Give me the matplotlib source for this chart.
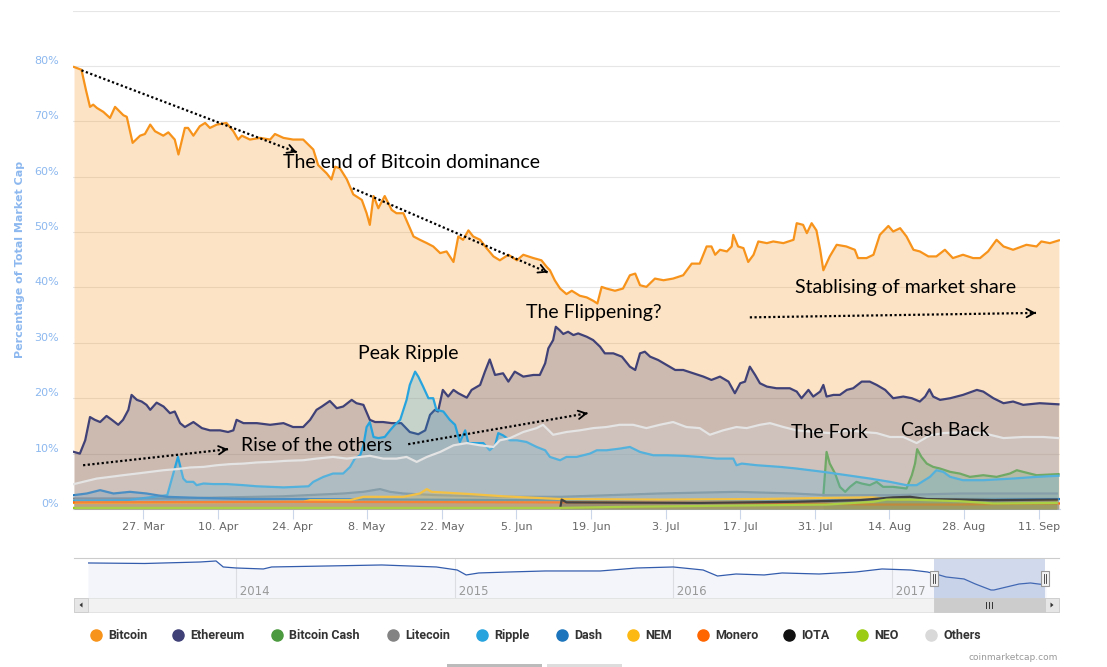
import numpy as np
import pandas as pd
import matplotlib
matplotlib.use("Agg")
import matplotlib.pyplot as plt
import matplotlib.dates as mdates
from matplotlib.patches import Rectangle
from matplotlib.transforms import ScaledTranslation
from datetime import datetime

# days after 14 Mar 2017 / percentage of total market cap
btc_day = [0, 1.4, 2.25, 3, 3.6, 4.3, 5.5, 6.75, 7.7, 9.25,
           9.9, 11, 12.4, 13.3, 14.3, 15.2, 16.75, 17.7, 18.9, 19.6,
           20.8, 21.4, 22.4, 23.6, 24.6, 25.5, 26.8, 28.6, 29.9, 30.8,
           31.5, 33, 34.9, 36.8, 37.7, 39.3, 41.1, 43, 44.9, 45.8,
           47.4, 48.3, 49, 49.9, 51.2, 52.4, 54, 54.9, 55.5, 56.2,
           57.1, 58.3, 59.6, 60.5, 61.8, 63.7, 64.9, 66.2, 67.4, 68.7,
           69.9, 71.2, 72.1, 73, 74, 74.9, 76.2, 77.4, 78.7, 79.9,
           81.5, 83.1, 84.3, 86.2, 87.7, 88.7, 89.3, 90.2, 91.2, 92.4,
           93.4, 94.9, 96.2, 97.4, 98.2, 99, 99.9, 101.5, 103, 104.3,
           105.3, 106.2, 107.4, 109, 110.6, 112.4, 114.3, 115.9, 117.4, 118.7,
           119.6, 120.3, 121.2, 122.5, 123.4, 123.7, 124.6, 125.6, 126.5, 127.5,
           128.4, 130, 131.2, 133.1, 135, 135.6, 136.8, 137.5, 138.4, 139.3,
           140, 140.6, 141.8, 143.1, 144.9, 146.5, 147.1, 148.7, 150, 151.2,
           152.8, 153.7, 155, 156.2, 157.5, 158.7, 160.3, 161.8, 163.4, 164.9,
           166.8, 168.7, 170, 171.5, 173.1, 174.4, 176.2, 178.7, 180.6, 181.5,
           183.1, 184.8]
btc_val = [79.8, 79.3, 75.6, 72.6, 73.0, 72.4, 71.7, 70.6, 72.6, 71.1,
           70.8, 66.1, 67.4, 67.7, 69.4, 68.2, 67.4, 68.0, 66.7, 64.0,
           68.8, 68.8, 67.4, 69.1, 69.7, 68.8, 69.4, 69.7, 68.2, 66.7,
           67.4, 66.7, 67.0, 66.7, 67.7, 67.0, 66.7, 66.7, 64.9, 62.1,
           60.6, 59.5, 61.8, 61.5, 59.5, 56.8, 55.8, 53.4, 51.3, 56.5,
           54.3, 56.5, 54.0, 53.4, 53.4, 49.2, 48.6, 48.0, 47.4, 46.2,
           46.5, 44.6, 49.2, 48.6, 50.3, 49.2, 48.6, 47.1, 45.6, 44.9,
           45.9, 44.9, 45.9, 45.3, 44.9, 43.7, 43.1, 41.3, 39.8, 38.8,
           39.4, 38.5, 38.2, 37.6, 37.1, 40.1, 39.8, 39.4, 39.8, 42.2,
           42.5, 40.4, 40.1, 41.6, 41.3, 41.6, 42.2, 44.3, 44.3, 47.4,
           47.4, 45.9, 46.8, 46.5, 47.4, 49.5, 47.4, 47.1, 44.6, 45.9,
           48.3, 48.0, 48.3, 48.0, 48.6, 51.6, 51.3, 49.8, 51.6, 50.3,
           46.8, 43.1, 45.6, 47.7, 47.4, 46.8, 45.3, 45.3, 45.9, 49.5,
           51.1, 50.1, 50.7, 49.2, 46.8, 46.5, 45.6, 45.6, 46.8, 45.3,
           45.9, 45.3, 45.3, 46.5, 48.6, 47.4, 46.8, 47.7, 47.4, 48.3,
           48.0, 48.5]

eth_day = [0, 1.1, 2.1, 3.0, 3.9, 4.9, 6.1, 7.1, 8.3, 9.2,
           10.2, 10.8, 11.8, 12.7, 13.6, 14.3, 15.5, 16.8, 18.0, 18.9,
           19.9, 20.8, 22.4, 24.0, 25.5, 27.4, 28.9, 29.9, 30.5, 31.8,
           34.3, 36.8, 39.3, 41.1, 43.0, 44.3, 45.5, 46.5, 48.0, 49.3,
           50.5, 52.1, 53.0, 54.3, 55.5, 56.5, 58.0, 59.6, 61.4, 63.0,
           64.6, 65.9, 66.8, 67.7, 68.3, 69.2, 70.2, 71.2, 72.1, 73.7,
           74.6, 76.2, 77.1, 78.0, 79.0, 80.5, 81.5, 82.7, 84.3, 86.2,
           87.4, 88.4, 89.0, 89.9, 90.4, 91.1, 91.8, 92.7, 93.7, 94.6,
           96.2, 97.4, 98.7, 99.6, 101.2, 102.8, 104.3, 105.3, 106.2, 107.1,
           108.1, 109.6, 111.2, 112.8, 114.3, 116.2, 118.1, 119.6, 121.2, 122.8,
           124.0, 125.0, 125.9, 126.8, 127.8, 128.7, 130.0, 131.8, 134.3, 135.6,
           136.5, 137.8, 138.7, 140.0, 140.6, 141.2, 142.5, 143.7, 145.0, 146.2,
           147.8, 149.3, 150.6, 152.2, 153.7, 155.6, 157.2, 158.7, 159.7, 160.5,
           161.2, 162.5, 164.4, 166.8, 169.4, 170.6, 172.5, 174.4, 176.2, 178.1,
           181.2, 184.7]
eth_val = [10.3, 10.0, 12.4, 16.6, 16.1, 15.7, 16.8, 16.1, 15.2, 16.1,
           17.9, 20.6, 19.7, 19.4, 18.8, 17.9, 19.2, 18.5, 17.3, 17.6,
           15.5, 14.8, 15.7, 14.6, 14.2, 14.2, 13.9, 14.2, 16.1, 15.5,
           15.5, 15.2, 15.5, 14.8, 14.8, 16.1, 17.9, 18.5, 19.5, 18.2,
           18.5, 19.7, 19.1, 18.8, 16.1, 15.7, 15.7, 15.5, 15.5, 13.9,
           13.5, 14.2, 17.0, 17.9, 17.6, 21.5, 20.3, 21.5, 20.9, 20.1,
           21.5, 22.4, 24.8, 27.0, 24.2, 24.5, 23.0, 24.8, 23.9, 24.2,
           24.2, 26.3, 29.0, 30.5, 32.9, 32.3, 31.6, 32.0, 31.4, 31.7,
           31.1, 30.5, 29.3, 28.1, 28.1, 27.5, 25.7, 25.1, 28.1, 28.4,
           27.5, 26.9, 26.0, 25.1, 25.1, 24.5, 23.9, 23.3, 23.9, 23.0,
           20.9, 22.7, 23.0, 25.7, 24.2, 22.7, 22.1, 21.8, 21.8, 21.2,
           20.0, 21.5, 20.3, 21.2, 22.4, 20.3, 20.6, 20.6, 21.5, 21.8,
           23.0, 23.0, 22.4, 21.5, 20.0, 20.3, 20.0, 19.4, 20.3, 21.6,
           20.3, 19.7, 20.0, 20.6, 21.5, 21.2, 20.0, 19.1, 19.4, 18.8,
           19.1, 18.9]

bch_day = [140.6, 141.2, 141.8, 142.8, 143.7, 144.7, 145.6, 146.8, 147.8, 149.3,
           150.6, 151.8, 153.7, 156.2, 157.2, 157.8, 158.2, 159.0, 160.0, 161.2,
           162.5, 164.4, 166.2, 168.1, 170.6, 173.1, 175.6, 176.9, 178.1, 180.6,
           184.7]
bch_val = [2.5, 10.3, 8.2, 6.4, 4.0, 3.1, 4.0, 4.9, 4.6, 4.3,
           4.9, 4.0, 4.0, 3.7, 6.1, 8.2, 10.8, 9.4, 8.2, 7.6,
           7.3, 6.7, 6.4, 5.8, 6.1, 5.8, 6.4, 7.0, 6.7, 6.1,
           6.3]

ltc_day = [0, 18.0, 39.3, 50.5, 54.3, 57.4, 59.3, 61.8, 68.0, 80.5,
           91.2, 109.9, 124.3, 135.0, 141.2, 153.7, 166.2, 184.4]
ltc_val = [1.9, 1.9, 2.3, 2.8, 3.1, 3.6, 3.1, 2.8, 2.5, 2.2,
           2.2, 2.8, 3.1, 2.8, 2.5, 2.5, 2.8, 2.8]

xrp_day = [0, 10.0, 17.5, 19.5, 20.5, 21.1, 22.4, 23.0, 24.3, 26.1,
           28.6, 31.8, 34.3, 36.8, 39.3, 41.8, 44.0, 44.9, 46.8, 48.6,
           50.5, 51.8, 52.7, 53.7, 54.3, 54.9, 55.5, 56.2, 57.1, 58.3,
           59.3, 60.2, 61.2, 62.4, 63.0, 64.0, 64.6, 65.5, 66.5, 67.4,
           68.0, 69.3, 70.5, 71.5, 72.4, 73.4, 74.0, 75.6, 76.8, 78.0,
           79.0, 79.6, 80.5, 81.8, 83.1, 84.9, 86.8, 88.4, 89.3, 91.2,
           92.4, 94.3, 96.8, 98.1, 99.9, 102.4, 104.3, 106.2, 108.7, 111.2,
           114.3, 117.4, 120.6, 123.7, 124.3, 125.3, 128.1, 132.5, 135.6, 140.6,
           145.0, 149.3, 153.1, 156.2, 158.1, 160.6, 161.8, 163.1, 164.4, 166.8,
           170.6, 176.2, 180.6, 184.7]
xrp_val = [1.5, 1.6, 2.5, 9.4, 5.5, 4.9, 4.9, 4.3, 4.6, 4.5,
           4.5, 4.3, 4.1, 4.0, 3.9, 4.0, 4.1, 4.9, 5.8, 6.4,
           6.4, 7.6, 9.1, 9.7, 11.5, 14.8, 15.7, 13.0, 12.8, 13.0,
           14.2, 15.2, 16.1, 19.7, 22.4, 24.8, 23.9, 22.1, 20.0, 20.0,
           17.9, 17.6, 16.1, 15.2, 12.1, 14.2, 11.9, 11.9, 11.9, 10.6,
           11.5, 13.7, 13.3, 12.4, 12.4, 12.1, 11.2, 10.6, 9.4, 8.8,
           9.4, 9.4, 10.0, 10.6, 10.6, 10.9, 11.2, 10.3, 9.7, 9.7,
           9.6, 9.4, 9.1, 9.1, 7.9, 8.2, 7.9, 7.6, 7.3, 6.7,
           6.1, 5.5, 4.9, 4.3, 4.3, 5.8, 7.0, 6.7, 5.8, 5.2,
           5.2, 5.5, 5.8, 6.0]

dash_day = [0, 2.4, 4.9, 7.4, 10.5, 13.6, 17.4, 23.6, 33.0, 42.4, 61.2, 90.0, 120.0, 150.0, 184.8]
dash_val = [2.5, 2.8, 3.4, 2.8, 3.1, 2.8, 2.2, 2.0, 1.8, 1.8, 1.7, 1.6, 1.6, 1.8, 1.8]

nem_day = [0, 43.0, 44.3, 51.8, 54.3, 61.8, 64.9, 66.2, 67.1, 74.3,
           80.5, 91.2, 109.9, 128.7, 141.2, 149.9, 153.7, 184.4]
nem_val = [1.1, 1.3, 1.6, 1.6, 2.2, 2.2, 2.8, 3.6, 3.1, 2.7,
           2.3, 1.8, 1.7, 1.8, 2.0, 2.1, 1.7, 1.6]

xmr_day = [0, 40, 90, 130, 150, 165, 184.8]
xmr_val = [1.2, 1.3, 1.2, 1.1, 0.8, 0.8, 1.0]

iota_day = [91.2, 91.5, 92.4, 117.4, 135.0, 147.5, 153.7, 156.9, 160.0, 172.5, 184.4]
iota_val = [0.0, 1.7, 1.2, 1.1, 1.3, 1.6, 2.1, 2.2, 1.8, 1.6, 1.7]

neo_day = [0, 91.2, 103.7, 122.5, 141.2, 150.0, 152.5, 156.9, 166.2, 172.5, 184.4]
neo_val = [0.2, 0.2, 0.4, 0.6, 0.8, 1.3, 1.7, 1.7, 1.4, 1.0, 1.1]

oth_day = [0, 1.7, 4.3, 6.8, 9.2, 11.8, 14.3, 16.8, 19.3, 21.8,
           24.3, 26.8, 29.3, 31.8, 34.3, 36.8, 39.9, 43.0, 45.5, 48.6,
           51.2, 53.7, 55.5, 58.0, 60.5, 62.4, 64.3, 66.2, 68.7, 71.2,
           73.7, 76.2, 78.7, 79.9, 81.8, 84.3, 86.8, 88.0, 89.9, 92.4,
           94.9, 97.4, 99.9, 102.4, 104.9, 107.4, 109.9, 112.4, 114.9, 117.4,
           119.3, 121.8, 124.3, 126.2, 128.7, 130.6, 133.1, 135.6, 139.3, 141.8,
           145.6, 148.1, 150.6, 153.1, 155.6, 158.1, 160.6, 163.1, 166.8, 170.6,
           174.4, 178.1, 181.9, 184.7]
oth_val = [4.5, 4.9, 5.5, 5.8, 6.1, 6.4, 6.7, 7.0, 7.2, 7.5,
           7.6, 7.9, 8.1, 8.2, 8.4, 8.5, 8.7, 8.8, 9.1, 9.4,
           9.1, 9.4, 9.6, 9.1, 9.1, 9.4, 8.5, 9.4, 10.3, 11.5,
           11.9, 11.5, 11.2, 12.4, 12.8, 13.9, 14.6, 15.2, 13.4, 13.9,
           14.2, 14.6, 14.8, 15.2, 15.2, 14.6, 15.2, 15.7, 14.8, 14.6,
           13.4, 14.2, 14.8, 14.6, 15.2, 15.5, 14.8, 14.2, 13.9, 13.7,
           14.2, 13.9, 13.7, 13.0, 13.0, 11.9, 13.3, 13.7, 13.9, 13.7,
           12.8, 13.0, 13.0, 12.8]

names = ["Bitcoin", "Ethereum", "Bitcoin Cash", "Litecoin", "Ripple", "Dash",
         "NEM", "Monero", "IOTA", "NEO", "Others"]
colors = ["#f7931a", "#3f4177", "#4c9a3f", "#838383", "#27a4de", "#1c75bc",
          "#fdb913", "#ff6600", "#111111", "#9ccc14", "#d9d9d9"]
days = [btc_day, eth_day, bch_day, ltc_day, xrp_day, dash_day,
        nem_day, xmr_day, iota_day, neo_day, oth_day]
vals = [btc_val, eth_val, bch_val, ltc_val, xrp_val, dash_val,
        nem_val, xmr_val, iota_val, neo_val, oth_val]

# navigator: bitcoin share over the whole history
nav_dates = ["2013-04-28", "2013-08-01", "2013-11-01", "2013-11-28", "2013-12-10",
             "2014-01-01", "2014-02-15", "2014-03-01", "2014-06-01", "2014-09-01",
             "2014-12-01", "2015-01-05", "2015-01-20", "2015-02-10", "2015-04-01",
             "2015-06-01", "2015-09-01", "2015-11-01", "2016-01-01", "2016-02-20",
             "2016-03-15", "2016-04-15", "2016-06-01", "2016-07-01", "2016-09-01",
             "2016-11-01", "2016-12-15", "2017-02-01", "2017-03-01", "2017-03-15",
             "2017-04-01", "2017-05-01", "2017-05-20", "2017-06-15", "2017-06-20",
             "2017-07-10", "2017-08-01", "2017-08-20", "2017-09-15"]
nav_vals = [91.3, 90.4, 93.0, 94.8, 84.3, 82.5, 80.8, 84.3, 86.0, 87.8,
            84.3, 79.0, 70.3, 73.8, 75.5, 77.3, 77.3, 82.5, 84.3, 79.0,
            68.5, 72.0, 70.3, 73.8, 72.0, 75.5, 80.8, 79.0, 75.5, 72.0,
            66.8, 63.3, 54.5, 44.0, 44.0, 49.0, 54.5, 56.3, 52.8]

W, H = 1107, 667
fig = plt.figure(figsize=(W / 100, H / 100), dpi=100)


def box(x0, y0, x1, y1):
    # pixel box measured from top-left -> figure fraction rect
    return [x0 / W, 1 - y1 / H, (x1 - x0) / W, (y1 - y0) / H]


t0 = mdates.date2num(datetime(2017, 3, 14))

ax = fig.add_axes(box(73, 10.5, 1060, 509))
for i in range(len(names)):
    x = t0 + np.array(days[i])
    y = np.array(vals[i])
    ax.fill_between(x, 0, y, color=colors[i], alpha=0.25, lw=0, zorder=2 + 2 * i)
    lc = "#e4e4e4" if names[i] == "Others" else colors[i]
    ax.plot(x, y, color=lc, lw=1.6, zorder=3 + 2 * i, solid_joinstyle="round")

ax.set_xlim(t0 - 0.19, t0 + 185.0)
ax.set_ylim(0, 90)
ax.set_yticks(range(0, 91, 10))
ax.set_yticklabels([f"{v}%" for v in range(0, 90, 10)] + [""])
ax.tick_params(axis="y", length=0, pad=10, labelsize=8, labelcolor="#8cb8ef")
for lab in ax.get_yticklabels():
    lab.set_transform(lab.get_transform() + ScaledTranslation(0, 0.06, fig.dpi_scale_trans))
ax.grid(axis="y", color="#e6e6e6", lw=0.8)
ax.set_axisbelow(True)
for s in ["top", "left", "right"]:
    ax.spines[s].set_visible(False)
ax.spines["bottom"].set_color("#ccd6eb")
tick_dates = pd.date_range("2017-03-27", "2017-09-11", freq="14D")
ax.set_xticks(mdates.date2num(tick_dates.to_pydatetime()))
ax.xaxis.set_major_formatter(mdates.DateFormatter("%-d. %b"))
ax.tick_params(axis="x", length=7, color="#ccd6eb", labelsize=8, labelcolor="#666666", pad=2)

fig.text(20 / W, 1 - 259 / H, "Percentage of Total Market Cap", rotation=90,
         ha="center", va="center", fontsize=8, color="#8cb8ef", fontweight="bold")

# annotations
afont = dict(family=["Lato", "DejaVu Sans"], fontsize=14, color="black", va="center", zorder=40)
ax.text(t0 + 39.2, 62.6, "The end of Bitcoin dominance", **afont)
ax.text(t0 + 84.8, 35.5, "The Flippening?", **afont)
ax.text(t0 + 53.3, 28.0, "Peak Ripple", **afont)
ax.text(t0 + 31.3, 11.5, "Rise of the others", **afont)
ax.text(t0 + 135.3, 39.9, "Stablising of market share", **afont)
ax.text(t0 + 134.5, 13.9, "The Fork", **afont)
ax.text(t0 + 155.2, 14.1, "Cash Back", **afont)


def dotted_arrow(d0, v0, d1, v1):
    ax.plot([t0 + d0, t0 + d1], [v0, v1], color="black", lw=1.6,
            ls=(0, (1, 1.1)), zorder=41, solid_capstyle="butt")
    ax.annotate("", xy=(t0 + d1, v1),
                xytext=(t0 + d1 - (d1 - d0) * 0.01, v1 - (v1 - v0) * 0.01),
                arrowprops=dict(arrowstyle="->,head_length=0.55,head_width=0.3",
                                lw=1.3, color="black", shrinkA=0, shrinkB=0),
                zorder=42)


dotted_arrow(1.4, 79.2, 41.8, 64.4)
dotted_arrow(52.3, 57.9, 88.9, 42.7)
dotted_arrow(1.7, 7.9, 28.9, 10.8)
dotted_arrow(62.7, 11.7, 96.4, 17.3)
dotted_arrow(126.8, 34.6, 180.5, 35.4)

# navigator
nav = fig.add_axes(box(88, 558, 1046, 598))
nx = mdates.date2num(pd.to_datetime(nav_dates).to_pydatetime())
nav.fill_between(nx, 0, nav_vals, color="#335cad", alpha=0.06, lw=0)
nav.plot(nx, nav_vals, color="#335cad", lw=0.9)
nav.set_xlim(mdates.date2num(datetime(2013, 4, 28)), mdates.date2num(datetime(2017, 9, 15)))
nav.set_ylim(30, 100)
nav.axis("off")
for yr in [2014, 2015, 2016, 2017]:
    xd = mdates.date2num(datetime(yr, 1, 1))
    nav.axvline(xd, color="#e6e6e6", lw=0.8, zorder=0)
    nav.text(xd, 0.17, f" {yr}", transform=nav.get_xaxis_transform(),
             fontsize=8.5, color="#999999", va="center", ha="left")

# overlay in pixel coordinates for navigator furniture and legend
ov = fig.add_axes([0, 0, 1, 1])
ov.set_xlim(0, W)
ov.set_ylim(H, 0)
ov.axis("off")
ov.patch.set_alpha(0)

ov.plot([74, 1059], [558, 558], color="#cccccc", lw=0.8)
ov.add_patch(Rectangle((934, 558), 111, 40, facecolor="#6685c2", alpha=0.3, lw=0))
for hx in [934, 1045]:
    ov.add_patch(Rectangle((hx - 4, 571), 8, 15, facecolor="#f2f2f2", edgecolor="#999999", lw=0.8))
    ov.plot([hx - 1.3, hx - 1.3], [574, 583], color="#333333", lw=0.6)
    ov.plot([hx + 1.3, hx + 1.3], [574, 583], color="#333333", lw=0.6)

# scrollbar
ov.add_patch(Rectangle((74, 598), 985, 14, facecolor="#f2f2f2", edgecolor="#e0e0e0", lw=0.6))
ov.add_patch(Rectangle((74, 598), 14, 14, facecolor="#e6e6e6", edgecolor="#cccccc", lw=0.6))
ov.add_patch(Rectangle((1045, 598), 14, 14, facecolor="#e6e6e6", edgecolor="#cccccc", lw=0.6))
ov.add_patch(Rectangle((934, 598), 111, 14, facecolor="#cccccc", edgecolor="#cccccc", lw=0.6))
for gx in [986, 989, 992]:
    ov.plot([gx, gx], [602, 608], color="#333333", lw=0.7)
ov.fill([79.5, 82.5, 82.5], [605, 602.5, 607.5], color="#333333", lw=0)
ov.fill([1053.5, 1050.5, 1050.5], [605, 602.5, 607.5], color="#333333", lw=0)

# legend
leg_x = [96, 178, 277, 393, 482, 562, 633, 703, 789, 862, 931]
for lx, name, col in zip(leg_x, names, colors):
    ov.plot([lx], [635], "o", ms=8, color=col, mec=col)
    ov.text(lx + 12, 635.5, name, fontsize=9, fontweight="bold", color="#333333",
            va="center", ha="left", family=["Roboto", "DejaVu Sans"])

ov.text(1058, 657, "coinmarketcap.com", fontsize=6.5, color="#999999", ha="right", va="center")
ov.add_patch(Rectangle((447, 664), 95, 3, facecolor="#bbbbbb", lw=0))
ov.add_patch(Rectangle((547, 664), 75, 3, facecolor="#dddddd", lw=0))

fig.savefig("out.png", dpi=100, facecolor="white")
